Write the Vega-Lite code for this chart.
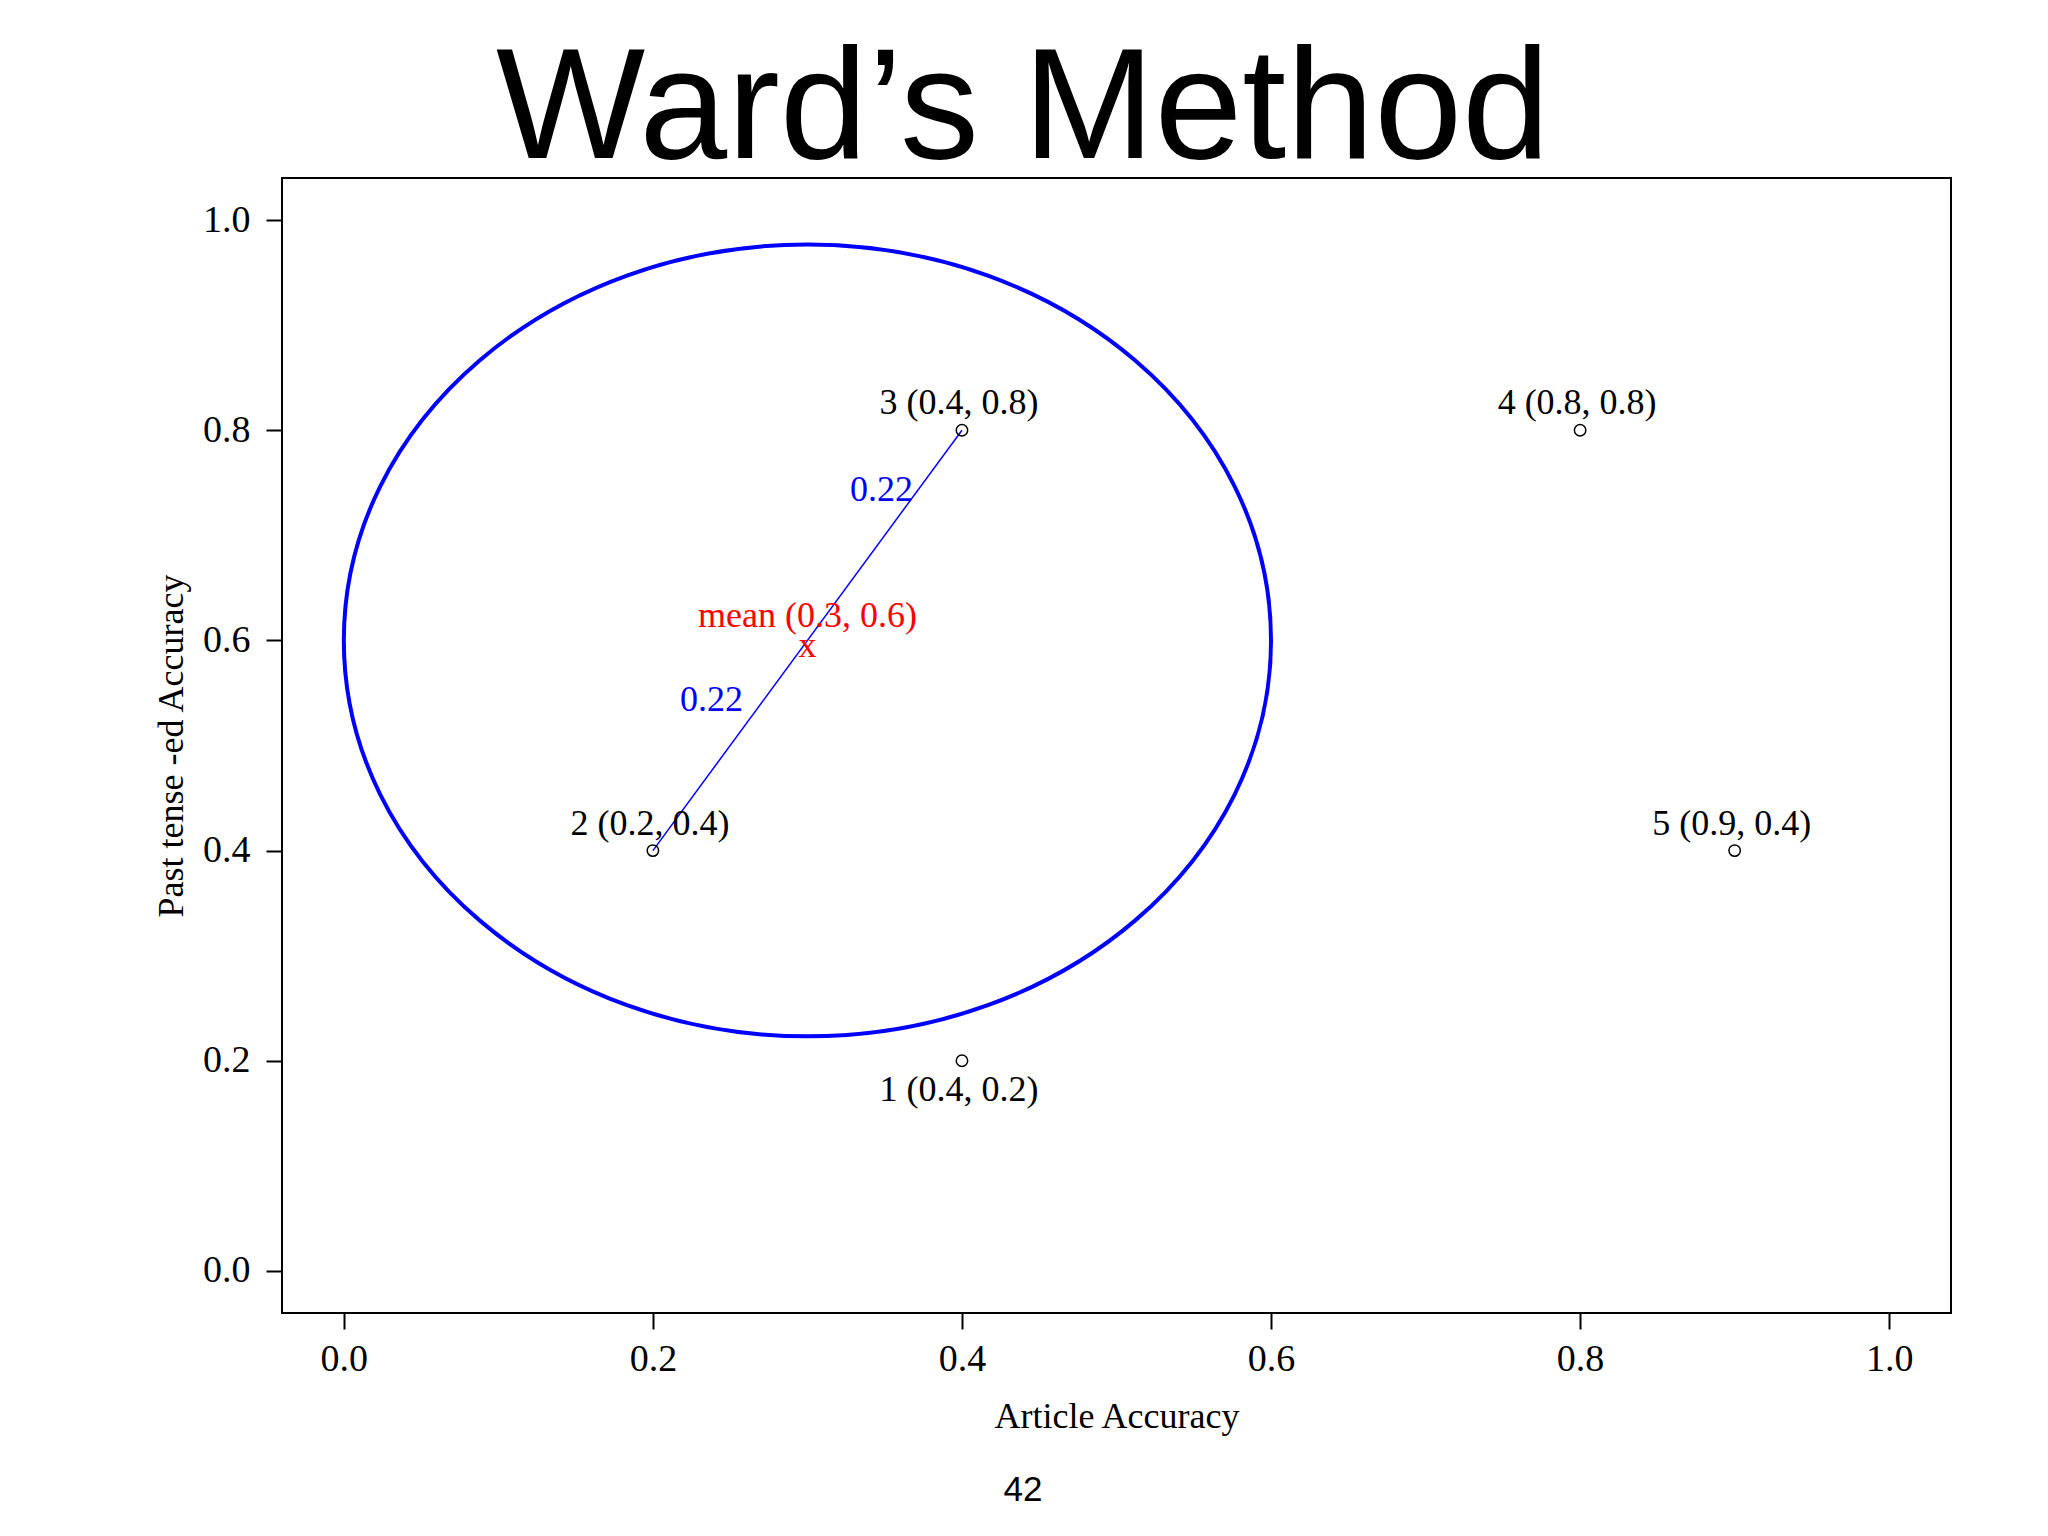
{
  "$schema": "https://vega.github.io/schema/vega-lite/v6.json",
  "width": 1669,
  "height": 1135,
  "autosize": {"type": "none"},
  "padding": {"left": 282, "top": 178, "right": 97, "bottom": 223},
  "background": "white",
  "title": {
    "text": "Ward’s Method",
    "font": "Liberation Sans",
    "fontSize": 158,
    "fontWeight": "normal",
    "color": "black",
    "anchor": "middle",
    "dx": -93.5,
    "offset": -171,
    "baseline": "bottom"
  },
  "datasets": {
    "points": [
      {"id": 1, "x": 0.4, "y": 0.2, "label": "1  (0.4,  0.2)"},
      {"id": 2, "x": 0.2, "y": 0.4, "label": "2  (0.2,  0.4)"},
      {"id": 3, "x": 0.4, "y": 0.8, "label": "3  (0.4,  0.8)"},
      {"id": 4, "x": 0.8, "y": 0.8, "label": "4  (0.8,  0.8)"},
      {"id": 5, "x": 0.9, "y": 0.4, "label": "5  (0.9,  0.4)"}
    ],
    "cluster": [
      {"x": 0.3, "y": 0.6, "label": "mean  (0.3,  0.6)", "marker": "x"}
    ],
    "segment": [
      {"x": 0.2, "y": 0.4, "x2": 0.4, "y2": 0.8}
    ],
    "distances": [
      {"x": 0.348, "y": 0.743, "label": "0.22"},
      {"x": 0.238, "y": 0.543, "label": "0.22"}
    ],
    "page": [
      {"label": "42"}
    ]
  },
  "resolve": {"axis": {"x": "independent", "y": "independent"}},
  "layer": [
    {
      "encoding": {
        "x": {
          "field": "x",
          "type": "quantitative",
          "scale": {"domain": [-0.04, 1.04], "nice": false, "zero": false},
          "axis": {
            "title": "Article Accuracy",
            "values": [0, 0.2, 0.4, 0.6, 0.8, 1.0],
            "format": ".1f",
            "labelPadding": 11,
            "titlePadding": 21,
            "labelFlush": false
          }
        },
        "y": {
          "field": "y",
          "type": "quantitative",
          "scale": {"domain": [-0.04, 1.04], "nice": false, "zero": false},
          "axis": {
            "title": "Past tense -ed Accuracy",
            "values": [0, 0.2, 0.4, 0.6, 0.8, 1.0],
            "format": ".1f",
            "labelAngle": 0,
            "labelPadding": 16,
            "titlePadding": 12,
            "labelFlush": false
          }
        }
      },
      "layer": [
        {
          "data": {"name": "cluster"},
          "mark": {
            "type": "point",
            "shape": "M 1 0 C 1 0.4717 0.5523 0.854 0 0.854 C -0.5523 0.854 -1 0.4717 -1 0 C -1 -0.4717 -0.5523 -0.854 0 -0.854 C 0.5523 -0.854 1 -0.4717 1 0 Z",
            "size": 859700,
            "filled": false,
            "stroke": "#0000FF",
            "strokeWidth": 4,
            "opacity": 1
          }
        },
        {
          "data": {"name": "segment"},
          "mark": {"type": "rule", "stroke": "#0000FF", "strokeWidth": 1.5},
          "encoding": {
            "x2": {"field": "x2"},
            "y2": {"field": "y2"}
          }
        },
        {
          "data": {"name": "points"},
          "mark": {
            "type": "point",
            "shape": "circle",
            "size": 130,
            "filled": false,
            "stroke": "black",
            "strokeWidth": 1.5,
            "opacity": 1
          }
        },
        {
          "data": {"name": "points"},
          "transform": [{"filter": "datum.id !== 1"}],
          "mark": {
            "type": "text",
            "font": "Liberation Serif",
            "fontSize": 36,
            "color": "black",
            "align": "center",
            "baseline": "middle",
            "dx": -3,
            "dy": -27
          },
          "encoding": {"text": {"field": "label"}}
        },
        {
          "data": {"name": "points"},
          "transform": [{"filter": "datum.id === 1"}],
          "mark": {
            "type": "text",
            "font": "Liberation Serif",
            "fontSize": 36,
            "color": "black",
            "align": "center",
            "baseline": "middle",
            "dx": -3,
            "dy": 29
          },
          "encoding": {"text": {"field": "label"}}
        },
        {
          "data": {"name": "distances"},
          "mark": {
            "type": "text",
            "font": "Liberation Serif",
            "fontSize": 36,
            "color": "#0000FF",
            "align": "center",
            "baseline": "middle"
          },
          "encoding": {"text": {"field": "label"}}
        },
        {
          "data": {"name": "cluster"},
          "mark": {
            "type": "text",
            "font": "Liberation Serif",
            "fontSize": 36,
            "color": "#FF0000",
            "align": "center",
            "baseline": "middle",
            "dy": -24
          },
          "encoding": {"text": {"field": "label"}}
        },
        {
          "data": {"name": "cluster"},
          "mark": {
            "type": "text",
            "font": "Liberation Serif",
            "fontSize": 36,
            "color": "#FF0000",
            "align": "center",
            "baseline": "middle",
            "dy": 6
          },
          "encoding": {"text": {"field": "marker"}}
        }
      ]
    },
    {
      "data": {"name": "page"},
      "mark": {
        "type": "text",
        "font": "Liberation Sans",
        "fontSize": 35,
        "color": "black",
        "align": "center",
        "baseline": "alphabetic"
      },
      "encoding": {
        "x": {
          "datum": 0.4395,
          "type": "quantitative",
          "scale": {"domain": [-0.04, 1.04], "nice": false, "zero": false},
          "axis": null
        },
        "y": {
          "datum": -0.2189,
          "type": "quantitative",
          "scale": {"domain": [-0.04, 1.04], "nice": false, "zero": false},
          "axis": null
        },
        "text": {"field": "label"}
      }
    }
  ],
  "config": {
    "view": {"stroke": "black", "strokeWidth": 2},
    "axis": {
      "grid": false,
      "domain": false,
      "ticks": true,
      "tickColor": "black",
      "tickWidth": 2,
      "tickSize": 16,
      "labelColor": "black",
      "titleColor": "black",
      "labelFont": "Liberation Serif",
      "titleFont": "Liberation Serif",
      "labelFontSize": 38,
      "titleFontSize": 36,
      "titleFontWeight": "normal"
    }
  }
}
